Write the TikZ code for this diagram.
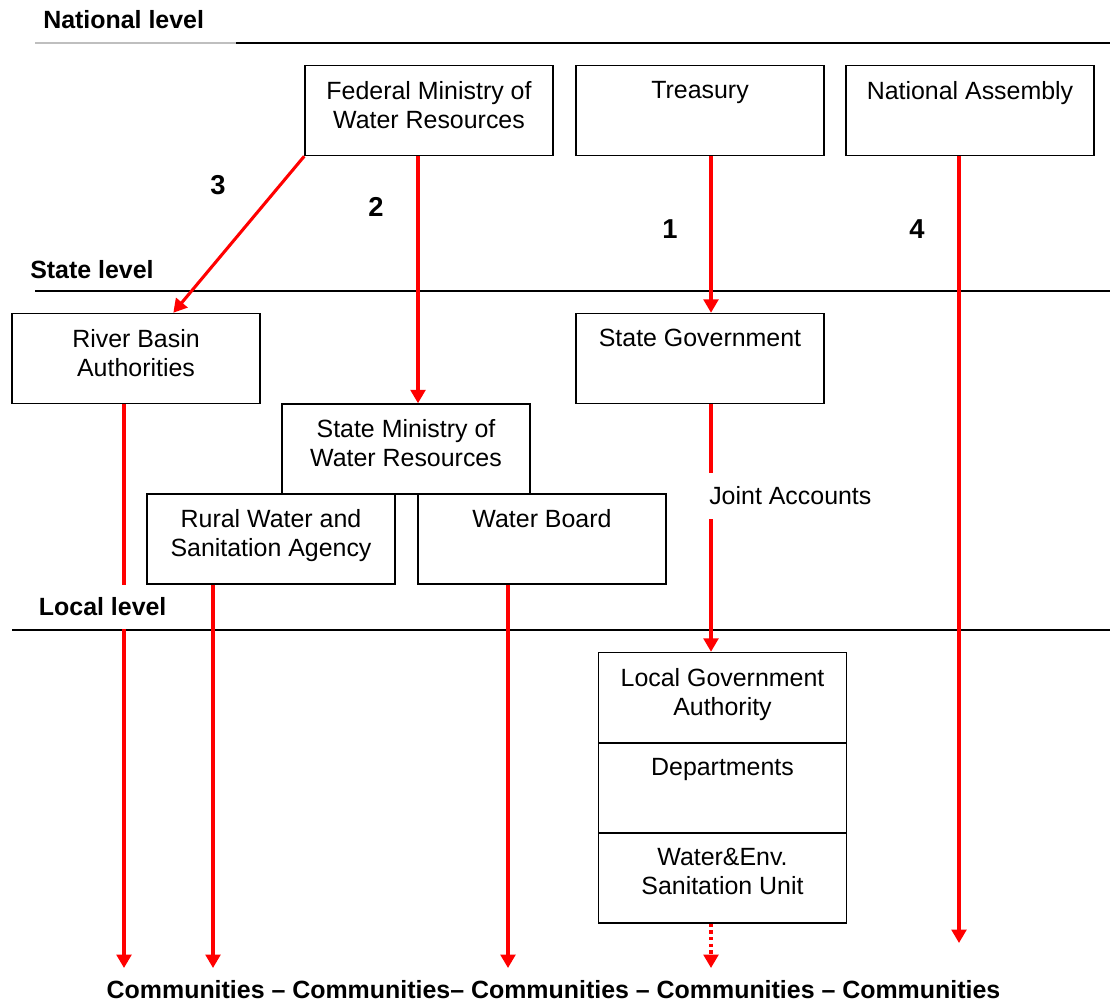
\documentclass[tikz,border=0pt]{standalone}
\usepackage{fontspec}
\setmainfont{Liberation Sans}
\usetikzlibrary{arrows.meta}
\begin{document}
\begin{tikzpicture}[x=0.75pt,y=-0.75pt,
    font=\fontsize{18.7pt}{21.75pt}\selectfont,
    box/.style={draw,line width=1.1pt,fill=white,minimum width=186pt,minimum height=67.5pt,inner sep=0pt},
    boxtext/.style={anchor=north,align=center,inner sep=0pt,yshift=-12pt},
    flow/.style={red,line width=2.3pt,-{Triangle[length=10pt,width=11pt]}},
    level/.style={font=\fontsize{18.7pt}{21.75pt}\selectfont\bfseries,anchor=west,inner sep=0pt},
    num/.style={font=\fontsize{20.5pt}{24pt}\selectfont\bfseries}]
  \useasboundingbox (0,0) rectangle (1110,1003);
  % level lines
  \draw[gray!50,line width=0.8pt] (35,43)--(236,43);
  \draw[line width=1pt] (236,43)--(1110,43);   % national
  \draw[line width=1pt] (35,291)--(1110,291);  % state
  \draw[line width=1pt] (12,630)--(1110,630);  % local
  % national level
  \node[box,label={[boxtext]north:Federal Ministry of\\Water Resources}] (fmwr) at (429,110.5) {};
  \node[box,label={[boxtext]north:Treasury}] (treasury) at (700,110.5) {};
  \node[box,label={[boxtext]north:National Assembly}] (nassembly) at (970,110.5) {};
  % state level
  \node[box,label={[boxtext]north:River Basin\\Authorities}] (rba) at (136,358.5) {};
  \node[box,label={[boxtext]north:State Government}] (stategov) at (700,358.5) {};
  \node[box,label={[boxtext]north:State Ministry of\\Water Resources}] (smwr) at (406,449) {};
  \node[box,label={[boxtext]north:Rural Water and\\Sanitation Agency}] (rwsa) at (271,539) {};
  \node[box,label={[boxtext]north:Water Board}] (wboard) at (542,539) {};
  % local level
  \node[box,label={[boxtext]north:Local Government\\Authority}] (lga) at (722.5,697.5) {};
  \node[box,label={[boxtext]north:Departments}] (dept) at (722.5,788) {};
  \node[box,label={[boxtext]north:Water\&Env.\\Sanitation Unit}] (wesu) at (722.5,878) {};
  % ends at the communities
  \coordinate (c1) at (124,968);
  \coordinate (c2) at (213,968);
  \coordinate (c3) at (508,968);
  \coordinate (c4) at (711,968);
  \coordinate (c5) at (959,943);
  % flows
  \draw[flow] (fmwr.south west) -- ([xshift=28pt]rba.north);
  \draw[flow] ([xshift=-8.25pt]fmwr.south) -- ([xshift=-8.25pt]fmwr.south |- smwr.north);
  \draw[flow] ([xshift=8.25pt]treasury.south) -- ([xshift=8.25pt]stategov.north);
  \draw[flow] (c5 |- nassembly.south) -- (c5);
  \draw[flow] (c4 |- stategov.south) -- (c4 |- lga.north);
  \draw[flow] (c1 |- rba.south) -- (c1);
  \draw[flow] (c2 |- rwsa.south) -- (c2);
  \draw[flow] (c3 |- wboard.south) -- (c3);
  \draw[flow,dash pattern=on 2.5pt off 2.5pt] (c4 |- wesu.south) -- (c4);
  % labels
  \node[level] (national) at (43,20) {National level};
  \node[level] (state) at (30,270) {State level};
  \node[level,fill=white,minimum height=33pt,inner xsep=2pt] (local) at (36,606.5) {Local level};
  \node[anchor=west,fill=white,minimum height=34pt,inner xsep=2.25pt] (joint) at (706,496) {Joint Accounts};
  \node[num] (n3) at (218,185) {3};
  \node[num] (n2) at (376,207) {2};
  \node[num] (n1) at (670,229) {1};
  \node[num] (n4) at (917,229) {4};
  \node[font=\fontsize{18.7pt}{21.75pt}\selectfont\bfseries] (comm) at (553.5,990)
    {Communities -- Communities-- Communities -- Communities -- Communities};
\end{tikzpicture}
\end{document}
